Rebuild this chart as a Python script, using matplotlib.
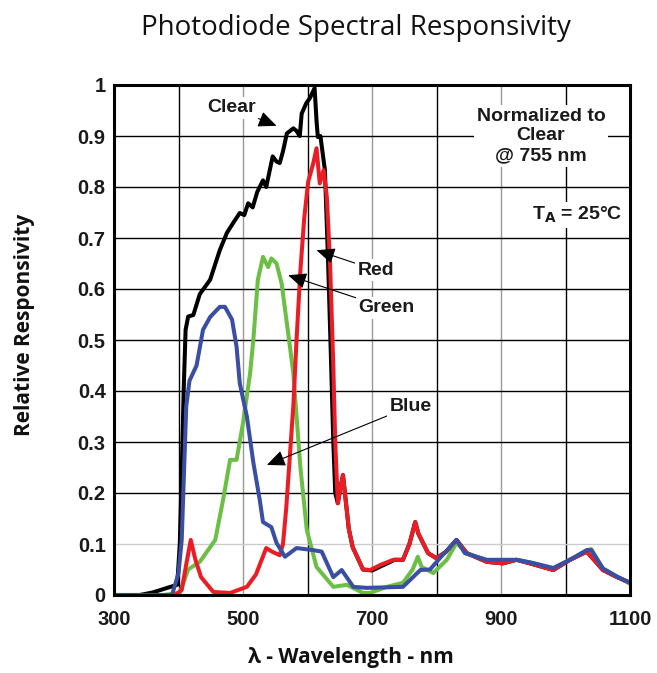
import matplotlib
matplotlib.use("Agg")
import matplotlib.pyplot as plt

# ---------------- data ----------------
clear_nm = [300, 340, 360, 380, 398, 402, 405, 408, 411, 415, 423, 433, 449, 464, 475, 485, 495, 502,
            508, 515, 522, 531, 536, 546, 552, 557, 562, 568, 578, 583, 588, 591, 598, 604, 611, 614,
            616, 620, 627, 632, 636, 640, 643, 647, 651, 655, 658, 664, 670, 686, 700, 720, 735, 748,
            758, 767, 772, 787, 800, 815, 831, 847, 878, 903, 924, 945, 981, 1007, 1033, 1058, 1080, 1100]
clear_val = [0, 0, 0.005, 0.013, 0.02, 0.1, 0.24, 0.4, 0.52, 0.546, 0.549, 0.59, 0.618, 0.676, 0.71,
             0.73, 0.749, 0.745, 0.768, 0.76, 0.79, 0.813, 0.80, 0.86, 0.85, 0.847, 0.87, 0.905, 0.915,
             0.91, 0.90, 0.944, 0.964, 0.975, 0.994, 0.93, 0.898, 0.90, 0.833, 0.65, 0.48, 0.30, 0.20,
             0.18, 0.21, 0.235, 0.20, 0.13, 0.094, 0.05, 0.048, 0.06, 0.069, 0.069, 0.10, 0.143, 0.12,
             0.082, 0.072, 0.085, 0.108, 0.082, 0.065, 0.062, 0.069, 0.062, 0.049, 0.069, 0.085, 0.049,
             0.035, 0.024]

red_nm = [300, 395, 405, 412, 419, 426, 435, 454, 480, 506, 520, 536, 545, 557, 562, 567, 578, 583,
          589, 595, 601, 609, 614, 619, 625, 630, 635, 640, 643, 647, 651, 655, 658, 664, 670, 686,
          697, 715, 733, 748, 758, 767, 772, 787, 800, 815, 831, 847, 878, 903, 924, 945, 981, 1007,
          1033, 1058, 1080, 1100]
red_val = [0, 0, 0.01, 0.06, 0.108, 0.07, 0.035, 0.006, 0.004, 0.016, 0.04, 0.092, 0.085, 0.078, 0.1,
           0.17, 0.37, 0.5, 0.637, 0.74, 0.81, 0.847, 0.876, 0.807, 0.833, 0.78, 0.65, 0.45, 0.3, 0.18,
           0.21, 0.235, 0.2, 0.13, 0.094, 0.05, 0.049, 0.06, 0.069, 0.069, 0.10, 0.143, 0.12, 0.082,
           0.072, 0.085, 0.108, 0.082, 0.065, 0.062, 0.069, 0.062, 0.049, 0.069, 0.085, 0.049, 0.035,
           0.024]

green_nm = [300, 376, 402, 415, 433, 457, 469, 480, 490, 500, 511, 516, 523, 531, 539, 544, 552, 560,
            572, 578, 589, 599, 614, 640, 661, 686, 697, 723, 748, 763, 771, 777, 795, 816, 831, 847,
            878, 903, 924, 945, 981, 1007, 1033, 1040, 1058, 1080, 1100]
green_val = [0, 0, 0.004, 0.05, 0.065, 0.108, 0.186, 0.265, 0.265, 0.337, 0.435, 0.5, 0.618, 0.663,
             0.643, 0.66, 0.65, 0.61, 0.494, 0.435, 0.25, 0.127, 0.055, 0.016, 0.02, 0.004, 0.004,
             0.016, 0.024, 0.05, 0.075, 0.055, 0.043, 0.069, 0.102, 0.082, 0.068, 0.064, 0.069, 0.064,
             0.052, 0.069, 0.088, 0.09, 0.052, 0.036, 0.022]

blue_nm = [300, 390, 400, 405, 412, 417, 428, 438, 449, 464, 472, 483, 490, 495, 506, 516, 526, 531,
           544, 552, 565, 583, 609, 622, 631, 640, 653, 671, 692, 748, 775, 790, 805, 831, 844, 878,
           924, 945, 981, 1007, 1033, 1040, 1058, 1080, 1100]
blue_val = [0, 0, 0.043, 0.108, 0.37, 0.42, 0.45, 0.52, 0.545, 0.565, 0.565, 0.54, 0.487, 0.415, 0.35,
            0.26, 0.186, 0.143, 0.133, 0.102, 0.075, 0.092, 0.088, 0.085, 0.06, 0.035, 0.049, 0.016,
            0.014, 0.016, 0.049, 0.05, 0.072, 0.108, 0.082, 0.069, 0.069, 0.064, 0.053, 0.069, 0.088,
            0.088, 0.052, 0.036, 0.024]

x_ticks = [300, 500, 700, 900, 1100]
x_tick_labels = ["300", "500", "700", "900", "1100"]
y_ticks = [0, 0.1, 0.2, 0.3, 0.4, 0.5, 0.6, 0.7, 0.8, 0.9, 1.0]
y_tick_labels = ["0", "0.1", "0.2", "0.3", "0.4", "0.5", "0.6", "0.7", "0.8", "0.9", "1"]

# ---------------- figure ----------------
W, H = 657, 673
fig = plt.figure(figsize=(W / 100, H / 100), dpi=100)
ax = fig.add_axes([114 / W, 1 - 595 / H, (630 - 114) / W, (595 - 85) / H])

ax.set_xlim(300, 1100)
ax.set_ylim(0, 1)

# grid lines
for xv in range(400, 1100, 100):
    col = "black" if xv % 200 == 0 else "#999999"
    ax.axvline(xv, color=col, lw=1.0, zorder=1)
for yv in [0.1, 0.2, 0.3, 0.4, 0.5, 0.6, 0.7, 0.8, 0.9]:
    col = "#cccccc" if abs(yv - 0.1) < 1e-9 else "black"
    ax.axhline(yv, color=col, lw=1.0, zorder=1)

lw = 2.9
kw = dict(lw=lw, solid_joinstyle="round", solid_capstyle="round")
ax.plot(clear_nm, clear_val, color="black", zorder=3, **kw)
ax.plot(green_nm, green_val, color="#6cbf45", zorder=4, **kw)
ax.plot(red_nm, red_val, color="#ec1c24", zorder=5, **kw)
ax.plot(blue_nm, blue_val, color="#3a4fa3", zorder=6, **kw)

ax.set_xticks(x_ticks)
ax.set_xticklabels(x_tick_labels)
ax.set_yticks(y_ticks)
ax.set_yticklabels(y_tick_labels)
ax.tick_params(axis="y", length=0, pad=6, labelsize=14.5)
ax.tick_params(axis="x", length=0, pad=11, labelsize=14.5)
for lab in ax.get_xticklabels() + ax.get_yticklabels():
    lab.set_fontfamily("Liberation Sans")
    lab.set_fontweight("bold")
    lab.set_color("#1a1a1a")

for s in ax.spines.values():
    s.set_linewidth(2.2)
    s.set_color("black")
    s.set_zorder(7)

fig.text(351 / W, 1 - 657 / H, "λ - Wavelength - nm", ha="center", va="center",
         fontsize=15, fontweight="bold", family=["Open Sans", "DejaVu Sans"], color="#111111")
fig.text(25 / W, 1 - 325 / H, "Relative Responsivity", ha="center", va="center", rotation=90,
         fontsize=15, fontweight="bold", family=["Open Sans", "DejaVu Sans"], color="#111111")

fig.text(356 / W, 1 - 28 / H, "Photodiode Spectral Responsivity", ha="center", va="center",
         fontsize=20, family="Open Sans", color="#111111")

txt_kw = dict(fontsize=14, fontweight="bold", family="Liberation Sans", color="#1a1a1a")
bbox_kw = dict(facecolor="white", edgecolor="none", pad=1.5)
arrow_kw = dict(arrowstyle="-|>,head_length=0.8,head_width=0.35", color="black", lw=0.8,
                shrinkA=0, shrinkB=0)

ax.annotate("Clear", xy=(552, 0.92), xytext=(483, 0.955), ha="center", va="center",
            arrowprops=arrow_kw, bbox=bbox_kw, zorder=8, **txt_kw)
ax.annotate("Red", xy=(614, 0.676), xytext=(706, 0.637), ha="center", va="center",
            arrowprops=arrow_kw, bbox=bbox_kw, zorder=8, **txt_kw)
ax.annotate("Green", xy=(570, 0.627), xytext=(722, 0.563), ha="center", va="center",
            arrowprops=arrow_kw, bbox=bbox_kw, zorder=8, **txt_kw)
ax.annotate("Blue", xy=(537, 0.255), xytext=(760, 0.37), ha="center", va="center",
            arrowprops=arrow_kw, bbox=bbox_kw, zorder=8, **txt_kw)

ax.text(962, 0.9, "Normalized to\nClear\n@ 755 nm", ha="center", va="center",
        linespacing=1.2, bbox=dict(facecolor="white", edgecolor="none", pad=2), zorder=8, **txt_kw)
ax.text(1088, 0.745, r"T$_\mathbf{A}$ = 25°C", ha="right", va="center",
        bbox=dict(facecolor="white", edgecolor="none", pad=2), zorder=8, **txt_kw)

fig.savefig("out.png", dpi=100, facecolor="white")
